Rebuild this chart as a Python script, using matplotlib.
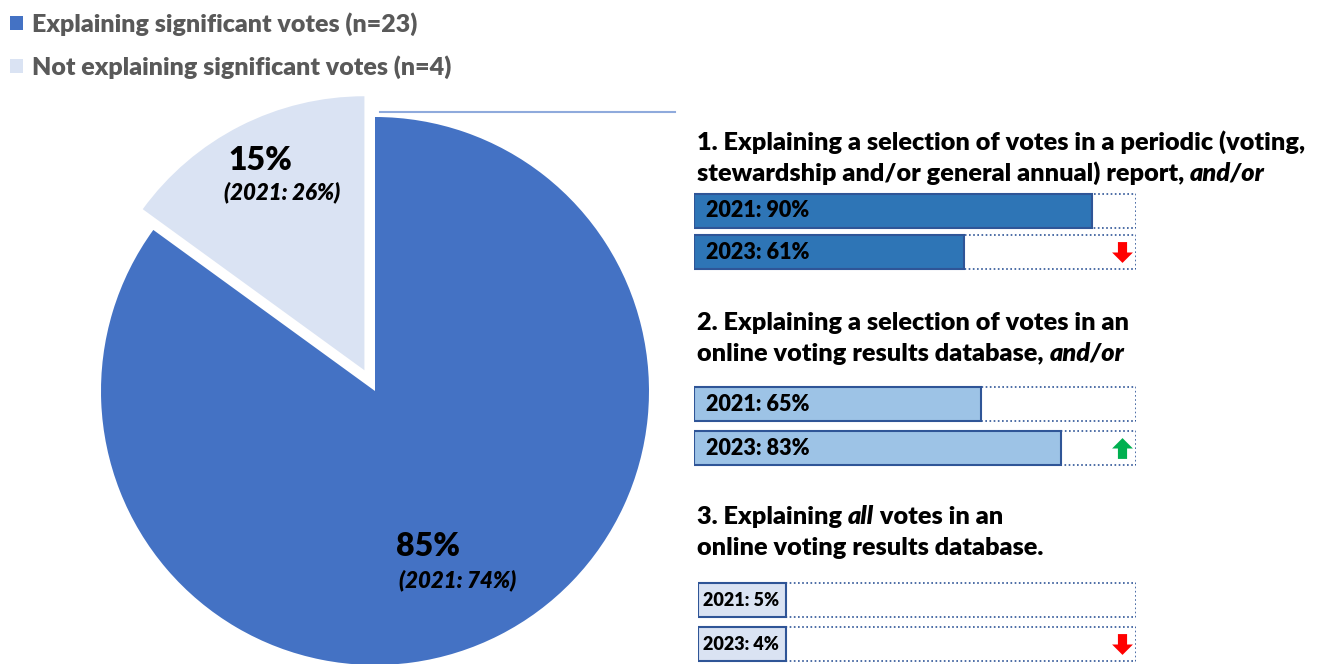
import matplotlib
matplotlib.use('Agg')
import matplotlib.pyplot as plt
from matplotlib.path import Path
from matplotlib.lines import Line2D

plt.rcParams['font.family'] = ['Lato', 'DejaVu Sans']

# pie data
pie_labels = ['Explaining significant votes (n=23)', 'Not explaining significant votes (n=4)']
pie_share = [85, 15]
pie_prev = [74, 26]
pie_colors = ['#4472c4', '#dae3f3']

# bar panels
panel_titles = [
    ['1. Explaining a selection of votes in a periodic (voting,',
     ('stewardship and/or general annual) report, ', 'and/or')],
    ['2. Explaining a selection of votes in an',
     ('online voting results database, ', 'and/or')],
    [('3. Explaining ', 'all', ' votes in an'),
     'online voting results database.'],
]
years = ['2021', '2023']
vals_2021 = [90, 65, 5]
vals_2023 = [61, 83, 4]
bar_colors = ['#2e75b6', '#9dc3e6', '#dae3f3']

W, H = 1321, 664
fig = plt.figure(figsize=(W / 100, H / 100), dpi=100)

def rect(x0, y0, x1, y1):
    # pixel box -> figure fraction
    return [x0 / W, 1 - y1 / H, (x1 - x0) / W, (y1 - y0) / H]

# ---- pie ----
cx, cy, r = 375, 391, 274
pad = 300
axp = fig.add_axes(rect(cx - pad, cy - pad, cx + pad, cy + pad))
wedges, _ = axp.pie(pie_share, colors=pie_colors, startangle=90, counterclock=False,
                    explode=[0, 0.085], radius=1)
axp.set_xlim(-pad / r, pad / r)
axp.set_ylim(-pad / r, pad / r)
axp.set_aspect('equal')
axp.axis('off')

# ---- bars ----
bar_top = [211, 404, 600]
row_gap = [41.5, 44, 44]
x_left = [694, 694, 698]
x_right = 1136
down = Path([(-0.22, 0.5), (0.22, 0.5), (0.22, 0.0), (0.5, 0.0), (0.0, -0.5),
             (-0.5, 0.0), (-0.22, 0.0), (-0.22, 0.5)])
up = Path([(x, -y) for x, y in down.vertices])
for i in range(3):
    g = row_gap[i]
    ax = fig.add_axes(rect(x_left[i], bar_top[i] - g / 2, x_right, bar_top[i] + 1.5 * g))
    vals = [vals_2021[i], vals_2023[i]]
    h = 34 / g
    ax.barh([0, 1], [100, 100], height=h, color='none', edgecolor='#2f5597',
            linestyle=(0, (1, 1.5)), linewidth=1.2)
    shown = [max(v, 20) for v in vals]  # box must hold its label
    ax.barh([0, 1], shown, height=h, color=bar_colors[i], edgecolor='#2f5597', linewidth=1.5)
    for j, v in enumerate(vals):
        ax.text(2.7 if i < 2 else 1.2, j, f'{years[j]}: {v}%', va='center', ha='left',
                fontsize=15.5 if i < 2 else 13, fontweight='heavy', color='black')
    diff = vals_2023[i] - vals_2021[i]
    ax.plot([96.8], [1], marker=up if diff > 0 else down, markersize=15, linestyle='none',
            color='#00b050' if diff > 0 else '#ff0000', markeredgewidth=0)
    ax.set_xlim(0, 100)
    ax.set_ylim(1.5, -0.5)
    ax.axis('off')

# ---- overlay texts in pixel coords ----
ax0 = fig.add_axes([0, 0, 1, 1], zorder=5)
ax0.set_xlim(0, W)
ax0.set_ylim(H, 0)
ax0.axis('off')

tfs = 18.2
title_y = [[142, 173], [323, 354], [517, 548]]
for i, lines in enumerate(panel_titles):
    for k, line in enumerate(lines):
        y = title_y[i][k]
        if isinstance(line, str):
            ax0.text(697, y, line, fontsize=tfs, fontweight='heavy', va='center')
        else:
            prev = ax0.text(697, y, line[0], fontsize=tfs, fontweight='heavy', va='center')
            for n, part in enumerate(line[1:]):
                prev = ax0.annotate(part, xy=(1, 0), xycoords=prev, va='bottom',
                                    fontsize=tfs, fontweight='heavy',
                                    fontstyle='italic' if n == 0 else 'normal')

# pie labels
ax0.text(428, 546, f'{pie_share[0]}%', fontsize=23, fontweight='heavy', ha='center', va='center')
ax0.text(458, 580, f'(2021: {pie_prev[0]}%)', fontsize=16, fontweight='heavy',
         fontstyle='italic', ha='center', va='center')
ax0.text(260, 161, f'{pie_share[1]}%', fontsize=23, fontweight='heavy', ha='center', va='center')
ax0.text(282, 192, f'(2021: {pie_prev[1]}%)', fontsize=16, fontweight='heavy',
         fontstyle='italic', ha='center', va='center')

# thin rule next to the pie
fig.add_artist(Line2D([380 / W, 675 / W], [1 - 112 / H, 1 - 112 / H], color='#8faadc', lw=1.5))

fig.legend(wedges, pie_labels, loc='upper left', bbox_to_anchor=(10 / W, 1 - 12 / H),
           frameon=False, labelcolor='#595959', prop={'weight': 'heavy', 'size': 18},
           handlelength=0.5, handleheight=0.5, handletextpad=0.4, labelspacing=0.78,
           borderpad=0, borderaxespad=0)

fig.savefig('out.png', dpi=100)
